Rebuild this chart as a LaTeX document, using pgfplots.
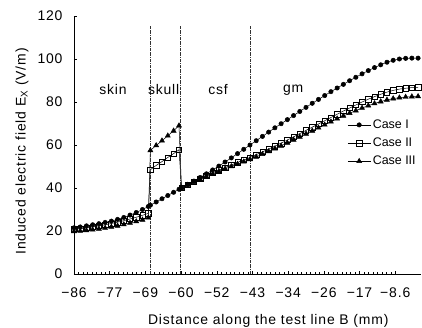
\documentclass[border=0pt]{standalone}
\usepackage{fontspec}
\setmainfont[LetterSpace=6]{Liberation Sans}
\newfontfamily\legfont{Liberation Sans}
\usepackage{pgfplots}
\usepackage{pgfplotstable}
\pgfplotsset{compat=1.18}

\pgfplotstableread{
x c1 c2 c3
-86.0 21.5 20.8 19.8
-84.5 21.9 21.1 20.0
-83.0 22.4 21.5 20.3
-81.5 22.9 21.9 20.6
-80.0 23.4 22.4 21.0
-78.5 24.0 22.9 21.4
-77.0 24.6 23.5 21.9
-75.5 25.4 24.1 22.4
-74.0 26.3 24.8 23.0
-72.5 27.4 25.6 23.7
-71.0 28.6 26.4 24.4
-69.5 30.0 27.3 25.2
-68.1 31.4 28.2 26.2
-67.6 32.0 48.5 57.5
-66.2 33.5 50.5 59.8
-64.8 35.0 52.3 62.0
-63.4 36.5 54.2 64.3
-62.0 38.0 56.0 66.6
-60.7 39.4 57.8 69.0
-60.1 40.0 40.2 40.0
-58.6 41.6 41.6 41.4
-57.1 43.2 43.0 42.7
-55.6 44.9 44.4 44.0
-54.1 46.6 45.7 45.3
-52.6 48.4 47.0 46.5
-51.1 50.2 48.3 47.7
-49.6 52.1 49.5 48.9
-48.1 54.0 50.7 50.0
-46.6 56.0 51.9 51.1
-45.1 58.0 53.0 52.2
-43.6 60.0 54.2 53.3
-42.1 62.0 55.5 54.5
-40.6 64.0 56.8 55.7
-39.1 66.0 58.1 57.0
-37.6 68.0 59.5 58.3
-36.1 69.9 60.9 59.6
-34.6 71.8 62.3 61.0
-33.1 73.7 63.8 62.4
-31.6 75.6 65.3 63.8
-30.1 77.5 66.8 65.2
-28.6 79.4 68.3 66.6
-27.1 81.2 69.8 68.0
-25.6 83.0 71.3 69.4
-24.1 84.8 72.8 70.8
-22.6 86.5 74.3 72.2
-21.1 88.2 75.8 73.5
-19.6 89.9 77.2 74.8
-18.1 91.5 78.6 76.0
-16.6 93.1 80.0 77.2
-15.1 94.6 81.3 78.3
-13.6 96.0 82.5 79.3
-12.1 97.3 83.6 80.2
-10.6 98.5 84.6 81.0
-9.1 99.4 85.4 81.6
-7.6 100.0 86.0 82.0
-6.1 100.3 86.4 82.3
-4.6 100.4 86.7 82.5
-3.1 100.4 86.8 82.6
}\data

\begin{document}
\begin{tikzpicture}
\begin{axis}[
  width=347bp, height=258bp, scale only axis,
  xmin=-86, xmax=-2.4, ymin=0, ymax=120,
  axis x line*=bottom, axis y line*=left,
  axis line style={-, black, line width=0.6pt},
  xtick={-86,-77.4,-68.8,-60.2,-51.6,-43,-34.4,-25.8,-17.2,-8.6},
  xticklabels={−86,−77,−69,−60,−52,−43,−34,−26,−17,−8.6},
  minor x tick num=7,
  ytick={0,20,40,60,80,100,120},
  tick align=inside,
  major tick length=3bp, minor tick length=2bp,
  tick style={black, line width=0.4pt},
  font=\fontsize{14}{16}\selectfont,
  /pgf/number format/assume math mode=true,
  xticklabel style={yshift=-10bp},
  yticklabel style={xshift=-8bp},
  xlabel={Distance along the test line B (mm)},
  ylabel={Induced electric field E\textsubscript{X} (V/m)},
  xlabel style={at={(axis description cs:0.56,-0.18)}, anchor=center},
  ylabel style={at={(axis description cs:-0.15,0.475)}, anchor=center},
  legend style={at={(0.785,0.61)}, anchor=north west, draw=none, fill=none,
    font=\legfont\fontsize{12.5}{15}\selectfont, row sep=4bp, inner sep=1bp},
  legend cell align=left,
  legend image code/.code={\draw[mark repeat=2, mark phase=2, #1] plot coordinates {(0,0) (0.4cm,0) (0.8cm,0)};},
  clip=false,
]
\addplot[black, line width=0.5pt, mark=*, mark size=2.2pt] table[x=x,y=c1]{\data};
\addplot[black, line width=0.5pt, mark=square, mark size=2.7pt, mark options={fill=white}] table[x=x,y=c2]{\data};
\addplot[black, line width=0.5pt, mark=triangle*, mark size=2.9pt] table[x=x,y=c3]{\data};
\legend{Case I, Case II, Case III}
\addplot[forget plot, black!80, line width=0.6pt, densely dash dot] coordinates {(-67.7,0) (-67.7,116)};
\addplot[forget plot, black!80, line width=0.6pt, densely dash dot] coordinates {(-60.5,0) (-60.5,116)};
\addplot[forget plot, black!80, line width=0.6pt, densely dash dot] coordinates {(-43.6,0) (-43.6,116)};
\node at (axis cs:-76.6,85.6) {skin};
\node at (axis cs:-64.4,85.6) {skull};
\node at (axis cs:-51.3,85.6) {csf};
\node at (axis cs:-33.2,85.6) {gm};
\end{axis}
\pgfresetboundingbox
\path (-74bp,-54bp) rectangle (348bp,274bp);
\end{tikzpicture}
\end{document}
